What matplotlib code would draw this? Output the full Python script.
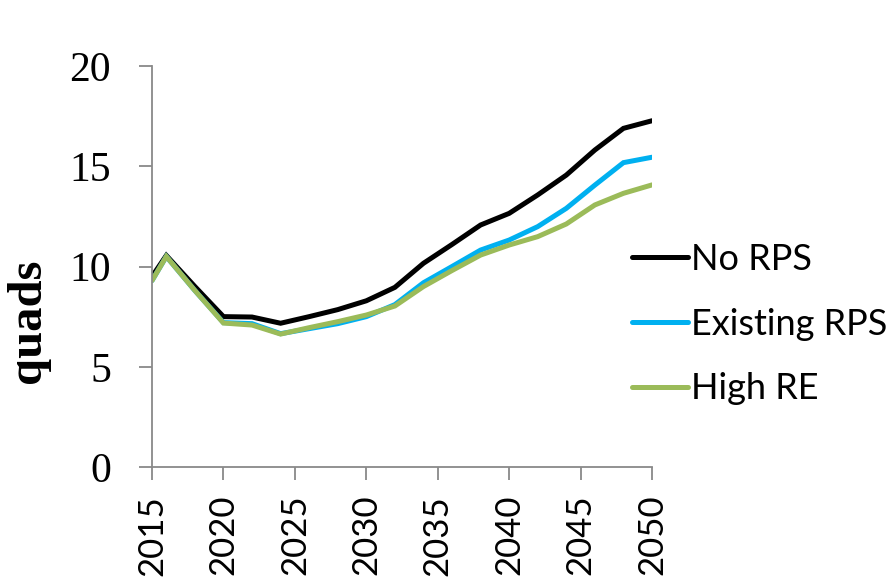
import matplotlib
matplotlib.use("Agg")
import matplotlib.pyplot as plt

# Years with model output
years = [2015, 2016, 2018, 2020, 2022, 2024, 2026, 2028, 2030, 2032,
         2034, 2036, 2038, 2040, 2042, 2044, 2046, 2048, 2050]

# quads
no_rps = [9.5, 10.55, 9.0, 7.5, 7.48, 7.17, 7.5, 7.85, 8.29, 8.96,
          10.16, 11.1, 12.07, 12.65, 13.57, 14.56, 15.81, 16.89, 17.27]
existing_rps = [9.3, 10.5, 8.8, 7.2, 7.15, 6.65, 6.9, 7.15, 7.5, 8.1,
                9.19, 10.0, 10.82, 11.32, 11.99, 12.9, 14.06, 15.18, 15.45]
high_re = [9.3, 10.5, 8.8, 7.18, 7.08, 6.63, 6.95, 7.25, 7.58, 8.03,
           9.0, 9.8, 10.57, 11.07, 11.49, 12.12, 13.07, 13.65, 14.07]

series = [
    ("No RPS", no_rps, "#000000"),
    ("Existing RPS", existing_rps, "#00B0F0"),
    ("High RE", high_re, "#9BBB59"),
]

fig = plt.figure(figsize=(8.86, 5.81), dpi=100)
ax = fig.add_axes([0.1716, 0.1962, 0.5643, 0.6902])

for name, vals, color in series:
    ax.plot(years, vals, color=color, linewidth=3.6, label=name,
            solid_joinstyle="miter", solid_capstyle="round")

ax.set_xlim(2015, 2050)
ax.set_ylim(0, 20)
ax.set_xticks(range(2015, 2051, 5))
ax.set_yticks(range(0, 21, 5))

grey = "#898989"
for side in ["top", "right"]:
    ax.spines[side].set_visible(False)
for side in ["left", "bottom"]:
    ax.spines[side].set_color(grey)
    ax.spines[side].set_linewidth(1.3)

ax.tick_params(axis="y", direction="out", length=9.5, width=1.3, color=grey,
               pad=20, labelsize=30)
ax.tick_params(axis="x", direction="out", length=9, width=1.3, color=grey,
               pad=11, labelsize=25, labelrotation=90)
for lab in ax.get_yticklabels():
    lab.set_fontfamily("Liberation Serif")
for lab in ax.get_xticklabels():
    lab.set_fontfamily("Lato")

ax.set_ylabel("quads", fontsize=35, fontweight="bold",
              fontfamily="Liberation Serif")
ax.yaxis.set_label_coords(-0.205, 0.364)

leg = ax.legend(loc="center left", bbox_to_anchor=(0.7133, 0.4423),
                bbox_transform=fig.transFigure, frameon=False,
                prop={"family": "Lato", "size": 26},
                handlelength=1.55, handletextpad=0.08, labelspacing=0.88,
                borderpad=0, borderaxespad=0)

fig.savefig("out.png", dpi=100)
